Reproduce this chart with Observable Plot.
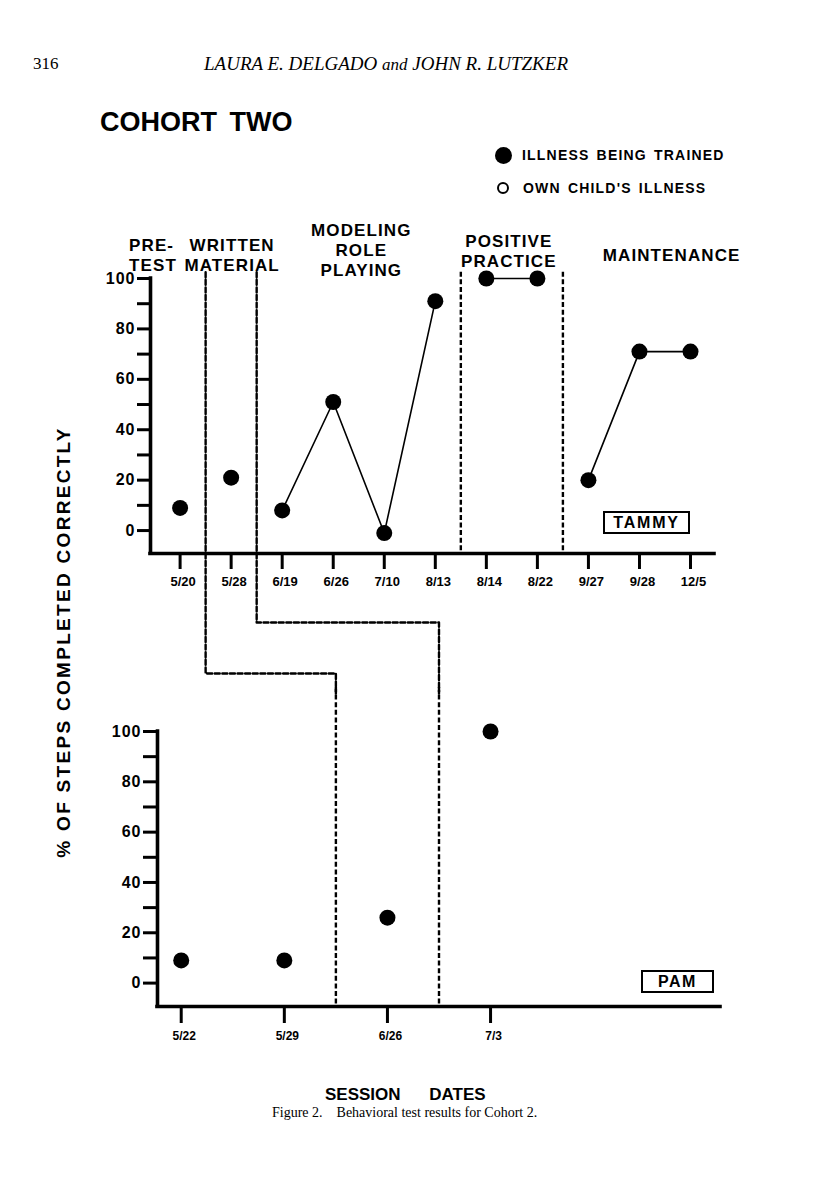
<!DOCTYPE html>
<html><head><meta charset="utf-8">
<script src="https://cdn.jsdelivr.net/npm/d3@7"></script>
<script src="https://cdn.jsdelivr.net/npm/@observablehq/plot@0.6"></script>
<style>
body{margin:0;background:#fff;}
#page{position:relative;width:816px;height:1195px;overflow:hidden;font-family:"Liberation Sans",Arial,sans-serif;color:#000;background:#fff;}
.abs{position:absolute;white-space:nowrap;}
.serif{font-family:"Liberation Serif","Times New Roman",serif;}
.b{font-weight:bold;}
.box{position:absolute;border:2px solid #000;box-sizing:border-box;display:flex;align-items:center;justify-content:center;font-weight:bold;}
#topPlot{position:absolute;left:0;top:200px;}
#botPlot{position:absolute;left:0;top:690px;}
</style></head><body>
<div id="page">
  <div class="abs serif" style="left:33px;top:55px;font-size:17px;line-height:17px;">316</div>
  <div class="abs serif" style="left:204px;top:54px;font-size:19px;line-height:19px;font-style:italic;">LAURA E. DELGADO <span style="font-size:17px">and</span> JOHN R. LUTZKER</div>
  <div class="abs b" style="left:100px;top:108px;font-size:27px;line-height:28px;word-spacing:5px;">COHORT TWO</div>
  <div class="abs" style="left:495px;top:147px;width:17px;height:17px;border-radius:50%;background:#000;"></div>
  <div class="abs b" style="left:522px;top:148px;font-size:14px;line-height:14px;letter-spacing:1.2px;word-spacing:2px;">ILLNESS BEING TRAINED</div>
  <div class="abs" style="left:497px;top:182px;width:12px;height:12px;border-radius:50%;border:2px solid #000;box-sizing:border-box;"></div>
  <div class="abs b" style="left:523px;top:181px;font-size:14px;line-height:14px;letter-spacing:1.2px;word-spacing:2px;">OWN CHILD'S ILLNESS</div>
  <div class="abs b" style="left:63px;top:642px;font-size:19px;line-height:19px;letter-spacing:2.3px;transform:translate(-50%,-50%) rotate(-90deg);">% OF STEPS COMPLETED CORRECTLY</div>
  <div id="topPlot"></div>
  <div id="botPlot"></div>
  <div class="box" style="left:603px;top:511px;width:87px;height:23px;font-size:16px;letter-spacing:1.8px;">TAMMY</div>
  <div class="box" style="left:641px;top:970px;width:73px;height:23px;font-size:16px;letter-spacing:1.5px;">PAM</div>
  <div class="abs b" style="left:325px;top:1086px;font-size:17px;line-height:17px;word-spacing:24px;">SESSION DATES</div>
  <div class="abs serif" style="left:272px;top:1106px;font-size:14px;line-height:14px;">Figure 2.&nbsp;&nbsp;&nbsp; Behavioral test results for Cohort 2.</div>
</div>
<script>
// ---------- data ----------
const tammyDates = ["5/20","5/28","6/19","6/26","7/10","8/13","8/14","8/22","9/27","9/28","12/5"];
const tammyValues = [9, 21, 8, 51, -1, 91, 100, 100, 20, 71, 71];
const tammySegment = [0, 1, 2, 2, 2, 2, 3, 3, 4, 4, 4];
const pamDates = ["5/22","5/29","6/26","7/3"];
const pamValues = [9, 9, 26, 100];
const pamSegment = [0, 1, 2, 3];
const tammyPhaseChanges = [0.5, 1.5, 5.5, 7.5];
const pamPhaseChanges = [1.5, 2.5];
const phaseNames = ["PRE-\nTEST", "WRITTEN\nMATERIAL", "MODELING\nROLE\nPLAYING", "POSITIVE\nPRACTICE", "MAINTENANCE"];
const yTicks = [0, 20, 40, 60, 80, 100];
const yMinorTicks = [10, 30, 50, 70, 90];

// ---------- layout ----------
const FONT = '"Liberation Sans", Arial, sans-serif';
const W = 816;
const topH = 490, topML = 150, topMR = 102, topMT = 78, topFrameBottom = 353;
const topXDomain = [-0.58, 10.47], topYDomain = [-9.1, 100];
const botH = 370, botML = 157, botMR = 96, botMT = 41, botFrameBottom = 316;
const botXDomain = [-0.23, 5.23], botYDomain = [-9.3, 100];
const phaseLabelX = [-1.0, 1.02, 3.55, 6.44, 9.63];
const phaseLabelY = [109.5, 109.5, 111.5, 111, 109.5];
const phaseLabelAnchor = ["start", "middle", "middle", "middle", "middle"];
const connectorLevels = [-56.7, -36.5];
const dash = "5,2.6";

const tammy = tammyDates.map((d, i) => ({i, date: d, v: tammyValues[i], seg: tammySegment[i]}));
const pam = pamDates.map((d, i) => ({i, date: d, v: pamValues[i], seg: pamSegment[i]}));

const tx = Plot.scale({x: {domain: topXDomain, range: [topML, W - topMR]}});
const ty = Plot.scale({y: {domain: topYDomain, range: [topFrameBottom, topMT]}});
const bx = Plot.scale({x: {domain: botXDomain, range: [botML, W - botMR]}});
const by = Plot.scale({y: {domain: botYDomain, range: [botFrameBottom, botMT]}});

const dashTop = 102.5;
const topBottomVal = ty.invert(topH + 3);
const connectors = [];
[0, 1].forEach(k => {
  const xA = tammyPhaseChanges[k];
  const xB = tx.invert(bx.apply(pamPhaseChanges[k]));
  const lvl = connectorLevels[k];
  [[xA, dashTop], [xA, lvl], [xB, lvl], [xB, topBottomVal]].forEach(([x, y]) => connectors.push({k, x, y}));
});

const phases = phaseNames.map((name, i) => ({name, x: phaseLabelX[i], y: phaseLabelY[i], anchor: phaseLabelAnchor[i]}));

const topPlot = Plot.plot({
  width: W, height: topH,
  marginLeft: topML, marginRight: topMR, marginTop: topMT, marginBottom: topH - topFrameBottom,
  x: {domain: topXDomain, axis: null, label: null},
  y: {domain: topYDomain, axis: null, label: null},
  style: {fontFamily: FONT, color: "#000", background: "transparent", overflow: "visible"},
  marks: [
    Plot.ruleX(tammyPhaseChanges.slice(2), {y1: dashTop, y2: topYDomain[0], strokeWidth: 2.4, strokeDasharray: dash}),
    Plot.line(connectors, {x: "x", y: "y", z: "k", strokeWidth: 2.4, strokeDasharray: dash, curve: "linear"}),
    Plot.ruleX([topXDomain[0]], {y1: topYDomain[0], y2: 100, strokeWidth: 3.6, strokeLinecap: "square"}),
    Plot.ruleY([topYDomain[0]], {x1: topXDomain[0], x2: topXDomain[1], strokeWidth: 3.6, strokeLinecap: "square"}),
    Plot.axisY({ticks: yTicks, label: null, tickSize: 13, tickPadding: 2, strokeWidth: 3, fontSize: 16, fontWeight: "bold", tickFormat: d => String(d)}),
    Plot.axisY({ticks: yMinorTicks, label: null, tickSize: 13, strokeWidth: 3, tickFormat: () => ""}),
    Plot.axisX({ticks: d3.range(tammyDates.length), label: null, tickSize: 16, tickPadding: 7, strokeWidth: 3, fontSize: 13, fontWeight: "bold", tickFormat: i => tammyDates[i]}),
    Plot.line(tammy, {x: "i", y: "v", z: "seg", strokeWidth: 1.6}),
    Plot.dot(tammy, {x: "i", y: "v", r: 8, fill: "#000"}),
    Plot.text(phases.filter(p => p.anchor === "start"), {x: "x", y: "y", text: "name", textAnchor: "start", lineAnchor: "middle", lineHeight: 1.17, fontSize: 17, fontWeight: "bold"}),
    Plot.text(phases.filter(p => p.anchor === "middle"), {x: "x", y: "y", text: "name", textAnchor: "middle", lineAnchor: "middle", lineHeight: 1.17, fontSize: 17, fontWeight: "bold"})
  ]
});
document.getElementById("topPlot").appendChild(topPlot);

const botDashTop = by.invert(-3);
const botPlot = Plot.plot({
  width: W, height: botH,
  marginLeft: botML, marginRight: botMR, marginTop: botMT, marginBottom: botH - botFrameBottom,
  x: {domain: botXDomain, axis: null, label: null},
  y: {domain: botYDomain, axis: null, label: null},
  style: {fontFamily: FONT, color: "#000", background: "transparent", overflow: "visible"},
  marks: [
    Plot.ruleX(pamPhaseChanges, {y1: botDashTop, y2: botYDomain[0], strokeWidth: 2.4, strokeDasharray: dash}),
    Plot.ruleX([botXDomain[0]], {y1: botYDomain[0], y2: 100, strokeWidth: 3.6, strokeLinecap: "square"}),
    Plot.ruleY([botYDomain[0]], {x1: botXDomain[0], x2: botXDomain[1], strokeWidth: 3.6, strokeLinecap: "square"}),
    Plot.axisY({ticks: yTicks, label: null, tickSize: 14, tickPadding: 2, strokeWidth: 3, fontSize: 16, fontWeight: "bold", tickFormat: d => String(d)}),
    Plot.axisY({ticks: yMinorTicks, label: null, tickSize: 14, strokeWidth: 3, tickFormat: () => ""}),
    Plot.axisX({ticks: d3.range(pamDates.length), label: null, tickSize: 17, tickPadding: 8, strokeWidth: 3, fontSize: 12, fontWeight: "bold", tickFormat: i => pamDates[i]}),
    Plot.line(pam, {x: "i", y: "v", z: "seg", strokeWidth: 1.6}),
    Plot.dot(pam, {x: "i", y: "v", r: 8, fill: "#000"})
  ]
});
document.getElementById("botPlot").appendChild(botPlot);

// letter spacing tweaks (style only)
[topPlot, botPlot].forEach(svg => {
  d3.select(svg).selectAll('g[aria-label="y-axis tick label"] text').attr("letter-spacing", "1px");
  d3.select(svg).selectAll('g[aria-label="x-axis tick label"] text').attr("transform", function() { return (this.getAttribute("transform") || "") + " translate(3,0)"; });
  d3.select(svg).selectAll('g[aria-label="text"] text').attr("letter-spacing", "1.1px");
});
</script>
</body></html>
